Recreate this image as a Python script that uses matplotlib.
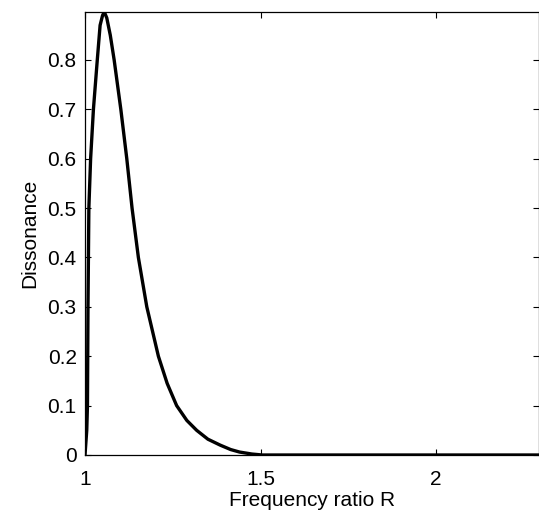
import matplotlib

matplotlib.use("Agg")
import matplotlib.pyplot as plt

# Dissonance curve, values
ratio = [1.000, 1.005, 1.007, 1.0085, 1.011, 1.016, 1.024, 1.035, 1.043, 1.050,
         1.055, 1.062, 1.072, 1.083, 1.102, 1.119, 1.134, 1.152, 1.176, 1.209,
         1.234, 1.261, 1.290, 1.318, 1.350, 1.385, 1.415, 1.440, 1.475, 1.505,
         1.600, 1.800, 2.000, 2.300]
dissonance = [0.000, 0.050, 0.100, 0.300, 0.500, 0.600, 0.700, 0.800, 0.870, 0.890,
              0.897, 0.885, 0.850, 0.800, 0.700, 0.600, 0.500, 0.400, 0.300, 0.200,
              0.145, 0.100, 0.070, 0.050, 0.032, 0.020, 0.011, 0.006, 0.002, 0.000,
              0.000, 0.000, 0.000, 0.000]

x_ticks = [1, 1.5, 2]
x_tick_labels = ["1", "1.5", "2"]
y_ticks = [0, 0.1, 0.2, 0.3, 0.4, 0.5, 0.6, 0.7, 0.8]
y_tick_labels = ["0", "0.1", "0.2", "0.3", "0.4", "0.5", "0.6", "0.7", "0.8"]

plt.rcParams["font.family"] = ["Liberation Sans", "DejaVu Sans"]

fig = plt.figure(figsize=(5.39, 5.2), dpi=100)
ax = fig.add_axes([0.1577, 0.125, 0.8423, 0.852])

ax.plot(ratio, dissonance, color="black", linewidth=2.4, solid_joinstyle="round")

ax.set_xlim(1, 2.293)
ax.set_ylim(0, 0.897)
ax.set_xticks(x_ticks)
ax.set_xticklabels(x_tick_labels)
ax.set_yticks(y_ticks)
ax.set_yticklabels(y_tick_labels)
ax.tick_params(direction="in", length=4, width=0.8, labelsize=15,
               top=True, right=True)
ax.tick_params(axis="x", pad=11)
ax.tick_params(axis="y", pad=6)
for spine in ax.spines.values():
    spine.set_linewidth(0.9)

ax.set_xlabel("Frequency ratio R", fontsize=15, labelpad=1)
ax.set_ylabel("Dissonance", fontsize=15, labelpad=6)

fig.savefig("out.png", dpi=100)
plt.close(fig)
